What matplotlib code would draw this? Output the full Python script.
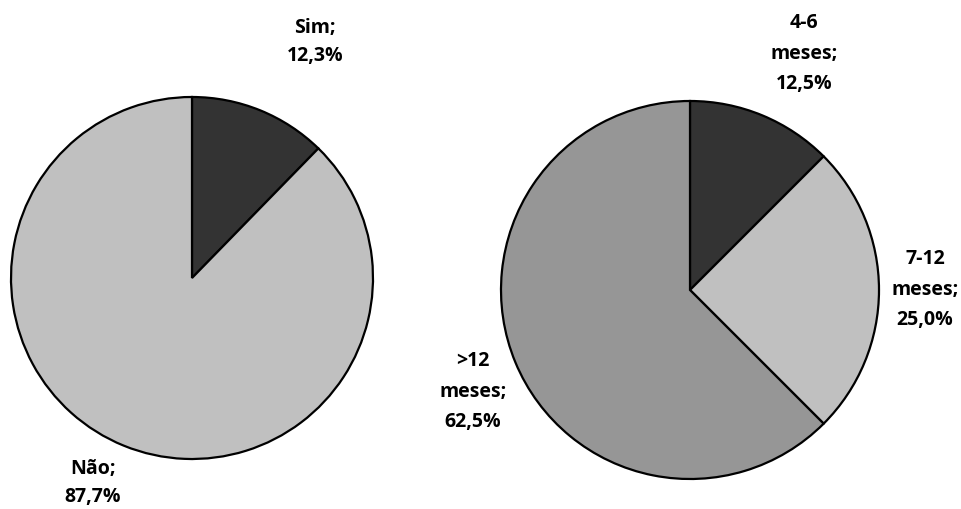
import matplotlib
matplotlib.use("Agg")
import matplotlib.pyplot as plt

# Left chart: yes / no
left_labels = ["Sim", "Não"]
left_values = [12.3, 87.7]
left_colors = ["#333333", "#c0c0c0"]

# Right chart: duration
right_labels = ["4-6\nmeses", "7-12\nmeses", ">12\nmeses"]
right_values = [12.5, 25.0, 62.5]
right_colors = ["#333333", "#c0c0c0", "#969696"]

W, H = 962, 510
fig = plt.figure(figsize=(W / 100, H / 100), dpi=100)
ax = fig.add_axes([0, 0, 1, 1])

wedge_style = dict(edgecolor="black", linewidth=1.6)
font = dict(family=["Open Sans", "DejaVu Sans"], fontsize=14, fontweight="bold",
            ha="center", va="center", color="black")


def fmt(v):
    return f"{v:.1f}%".replace(".", ",")


# Left pie
lc, lr = (192, 231), 181
ax.pie(left_values, colors=left_colors, startangle=90, counterclock=False,
       center=lc, radius=lr, wedgeprops=wedge_style, frame=True)
left_pos = [(315, 468), (93, 27)]
for lab, v, (x, y) in zip(left_labels, left_values, left_pos):
    ax.text(x, y, f"{lab};\n{fmt(v)}", linespacing=1.55, **font)

# Right pie
rc, rr = (690, 219), 189
ax.pie(right_values, colors=right_colors, startangle=90, counterclock=False,
       center=rc, radius=rr, wedgeprops=wedge_style, frame=True)
right_pos = [(804, 456), (925, 220), (473, 118)]
for lab, v, (x, y) in zip(right_labels, right_values, right_pos):
    ax.text(x, y, f"{lab};\n{fmt(v)}", linespacing=1.7, **font)

ax.set_xlim(0, W)
ax.set_ylim(0, H)
ax.set_aspect("equal")
ax.axis("off")
fig.savefig("out.png", dpi=100)
